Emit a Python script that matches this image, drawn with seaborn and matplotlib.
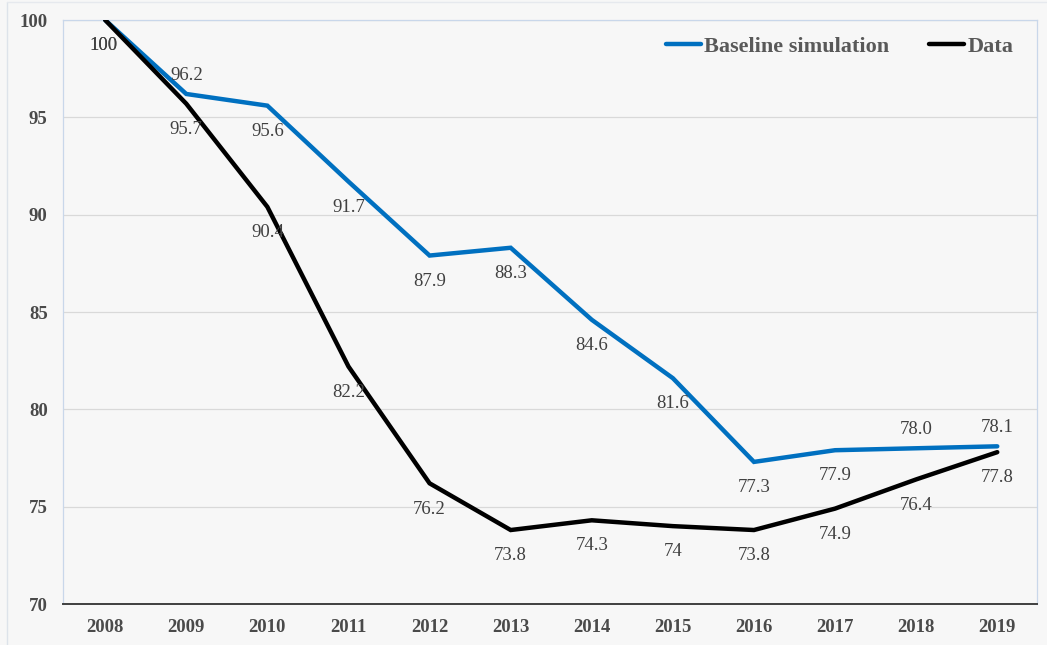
import numpy as np
import pandas as pd
import matplotlib
matplotlib.use("Agg")
import matplotlib.pyplot as plt
from matplotlib.lines import Line2D
import seaborn as sns

years = ["2008", "2009", "2010", "2011", "2012", "2013", "2014", "2015", "2016", "2017", "2018", "2019"]
baseline = [100, 96.2, 95.6, 91.7, 87.9, 88.3, 84.6, 81.6, 77.3, 77.9, 78.0, 78.1]
baseline_labels = ["100", "96.2", "95.6", "91.7", "87.9", "88.3", "84.6", "81.6", "77.3", "77.9", "78.0", "78.1"]
data_vals = [100, 95.7, 90.4, 82.2, 76.2, 73.8, 74.3, 74, 73.8, 74.9, 76.4, 77.8]
data_labels = ["100", "95.7", "90.4", "82.2", "76.2", "73.8", "74.3", "74", "73.8", "74.9", "76.4", "77.8"]
series_names = ["Baseline simulation", "Data"]
yticks = [70, 75, 80, 85, 90, 95, 100]

# label placement (style): 1 = above, -1 = below
baseline_side = [-1, 1, -1, -1, -1, -1, -1, -1, -1, -1, 1, 1]
data_side = [-1] * 12

sns.set_theme(style="white")
plt.rcParams["font.family"] = ["Liberation Serif", "DejaVu Serif"]

colors = {"Baseline simulation": "#0070C0", "Data": "#000000"}

idx = np.arange(len(years))
df = pd.DataFrame({
    "idx": np.concatenate([idx, idx]),
    "value": baseline + data_vals,
    "series": [series_names[0]] * len(years) + [series_names[1]] * len(years),
})

fig = plt.figure(figsize=(10.47, 6.45), dpi=100)
fig.patch.set_facecolor("#f7f7f7")
ax = fig.add_axes([63 / 1047, 1 - 604 / 645, (1037 - 63) / 1047, (604 - 20) / 645])
ax.set_facecolor("#f7f7f7")

sns.lineplot(data=df, x="idx", y="value", hue="series", palette=colors,
             linewidth=3.2, ax=ax, legend=False, zorder=3, solid_joinstyle="miter")

ax.set_xlim(-0.52, 11.49)
ax.set_ylim(70, 100)
ax.set_yticks(yticks)
ax.set_yticklabels([str(t) for t in yticks], fontsize=13.5, fontweight="bold", color="#4a4a4a")
ax.set_xticks(idx)
ax.set_xticklabels(years, fontsize=13.5, fontweight="bold", color="#4a4a4a")
ax.tick_params(axis="both", length=0)
ax.tick_params(axis="x", pad=11)
ax.tick_params(axis="y", pad=11)
ax.set_xlabel("")
ax.set_ylabel("")

ax.grid(axis="y", color="#d9d9d9", linewidth=0.9)
ax.grid(axis="x", visible=False)
ax.set_axisbelow(True)

for side in ["left", "top", "right"]:
    ax.spines[side].set_color("#c9d7ea")
    ax.spines[side].set_linewidth(0.9)
ax.spines["bottom"].set_color("#404040")
ax.spines["bottom"].set_linewidth(1.4)

for vals, labs, sides in [(baseline, baseline_labels, baseline_side), (data_vals, data_labels, data_side)]:
    for i, (v, t, s) in enumerate(zip(vals, labs, sides)):
        dy = 13.5 if s > 0 else -18.5
        dx = -1.5 if i == 0 else 0
        ax.annotate(t, (i, v), xytext=(dx, dy), textcoords="offset points",
                    ha="center", va="center", fontsize=13.5, color="#404040", zorder=4)

handles = [Line2D([0], [0], color=colors[n], linewidth=3.2, solid_capstyle="round") for n in series_names]
leg = ax.legend(handles, series_names, loc="center right",
                bbox_to_anchor=((1033 - 63) / 974, (604 - 47) / 584),
                ncol=2, frameon=False, handlelength=1.55, handletextpad=0.15,
                columnspacing=1.8, prop={"family": "Liberation Serif", "weight": "bold", "size": 16})
for txt in leg.get_texts():
    txt.set_color("#595959")

# outer chart frame edge
fig.add_artist(Line2D([7 / 1047, 7 / 1047], [0, 1 - 2 / 645], transform=fig.transFigure,
                      color="#dde3ea", linewidth=1.0))
fig.add_artist(Line2D([7 / 1047, 1], [1 - 2 / 645, 1 - 2 / 645], transform=fig.transFigure,
                      color="#e6e9ee", linewidth=1.0))

fig.savefig("out.png", dpi=100, facecolor=fig.get_facecolor())
